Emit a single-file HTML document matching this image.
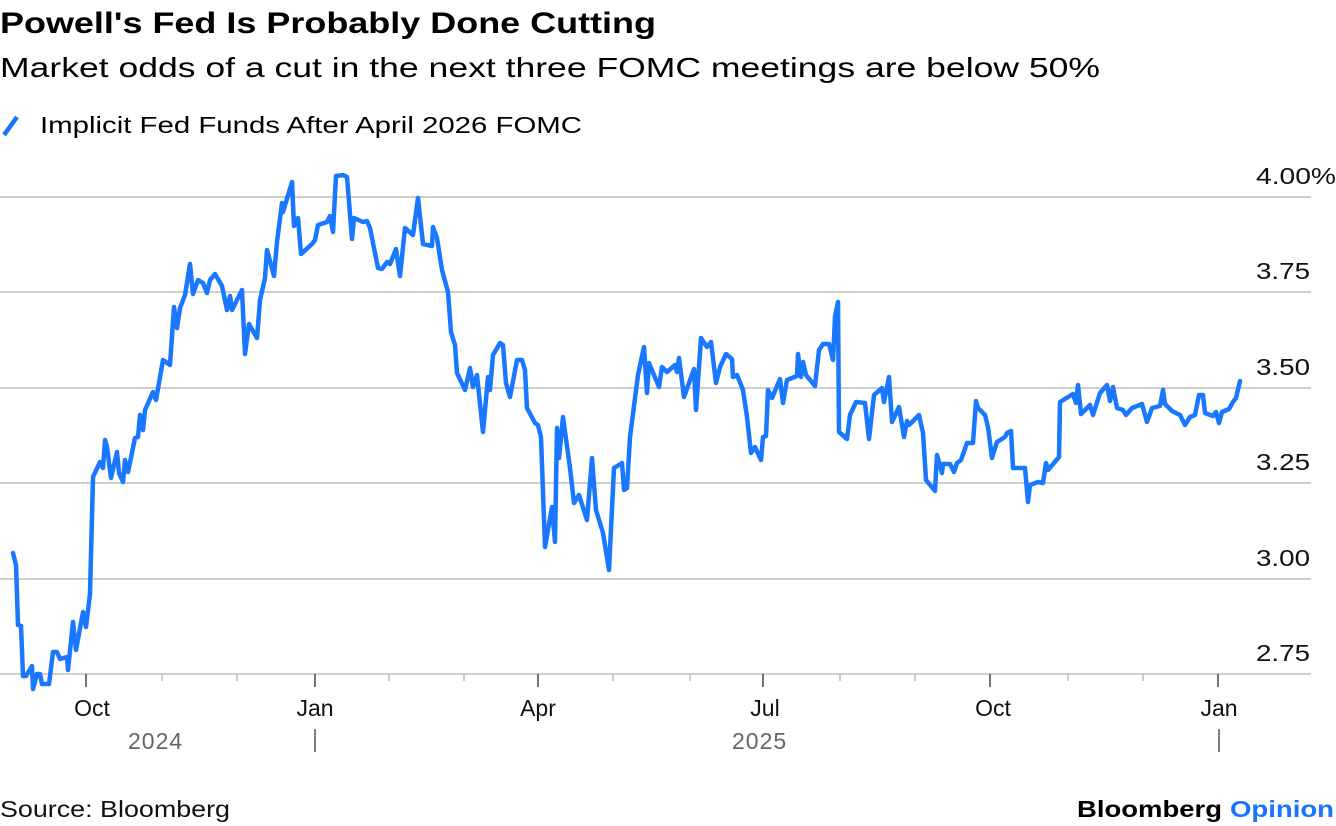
<!DOCTYPE html>
<html><head><meta charset="utf-8"><style>
html,body{margin:0;padding:0;background:#fff;}
svg{display:block;font-family:"Liberation Sans",sans-serif;}
</style></head><body>
<svg width="1336" height="826" viewBox="0 0 1336 826" xmlns="http://www.w3.org/2000/svg">
<text x="0" y="33" font-size="30" font-weight="bold" fill="#000" textLength="656" lengthAdjust="spacingAndGlyphs">Powell's Fed Is Probably Done Cutting</text>
<text x="0" y="77" font-size="28" fill="#000" textLength="1100" lengthAdjust="spacingAndGlyphs">Market odds of a cut in the next three FOMC meetings are below 50%</text>
<line x1="4" y1="135" x2="17" y2="117" stroke="#1a74ff" stroke-width="4.5"/>
<text x="40" y="133" font-size="23" fill="#000" textLength="542" lengthAdjust="spacingAndGlyphs">Implicit Fed Funds After April 2026 FOMC</text>
<g stroke="#cfcfcf" stroke-width="2">
<line x1="0" y1="197" x2="1311" y2="197"/>
<line x1="0" y1="292" x2="1311" y2="292"/>
<line x1="0" y1="388" x2="1311" y2="388"/>
<line x1="0" y1="483" x2="1311" y2="483"/>
<line x1="0" y1="579" x2="1311" y2="579"/>
<line x1="0" y1="674" x2="1311" y2="674"/>
</g>
<g font-size="23" fill="#111">
<text x="1256" y="184" textLength="80" lengthAdjust="spacingAndGlyphs">4.00%</text>
<text x="1256" y="279" textLength="54" lengthAdjust="spacingAndGlyphs">3.75</text>
<text x="1256" y="375" textLength="54" lengthAdjust="spacingAndGlyphs">3.50</text>
<text x="1256" y="470" textLength="54" lengthAdjust="spacingAndGlyphs">3.25</text>
<text x="1256" y="566" textLength="54" lengthAdjust="spacingAndGlyphs">3.00</text>
<text x="1256" y="661" textLength="54" lengthAdjust="spacingAndGlyphs">2.75</text>
</g>
<g stroke="#444" stroke-width="1.5">
<line x1="86" y1="674" x2="86" y2="687"/><line x1="315" y1="674" x2="315" y2="687"/>
<line x1="538" y1="674" x2="538" y2="687"/><line x1="763" y1="674" x2="763" y2="687"/>
<line x1="990" y1="674" x2="990" y2="687"/><line x1="1218" y1="674" x2="1218" y2="687"/>
</g>
<g stroke="#bbb" stroke-width="1.5">
<line x1="162" y1="674" x2="162" y2="681"/><line x1="237" y1="674" x2="237" y2="681"/>
<line x1="389" y1="674" x2="389" y2="681"/><line x1="464" y1="674" x2="464" y2="681"/>
<line x1="613" y1="674" x2="613" y2="681"/><line x1="690" y1="674" x2="690" y2="681"/>
<line x1="840" y1="674" x2="840" y2="681"/><line x1="915" y1="674" x2="915" y2="681"/>
<line x1="1068" y1="674" x2="1068" y2="681"/><line x1="1143" y1="674" x2="1143" y2="681"/>
</g>
<g font-size="23" fill="#111" text-anchor="middle">
<text x="92" y="716">Oct</text><text x="315" y="716">Jan</text><text x="538" y="716">Apr</text>
<text x="765" y="716">Jul</text><text x="993" y="716">Oct</text><text x="1219" y="716">Jan</text>
</g>
<g font-size="23" fill="#666">
<text x="128" y="749" letter-spacing="1">2024</text>
<text x="732" y="749" letter-spacing="1">2025</text>
</g>
<g stroke="#555" stroke-width="1.5">
<line x1="315" y1="729" x2="315" y2="752"/><line x1="1219" y1="729" x2="1219" y2="752"/>
</g>
<polyline fill="none" stroke="#1a77ff" stroke-width="4.5" stroke-linejoin="round" stroke-linecap="round" points="13,553 16,565 18,625 21,626 23,676 26,676 32,666 33,689 37,674 40,674 42,684 49,684 53,652 57,652 60,659 67,657 68,670 73,622 76,650 83,612 86,627 90,594 93,477 100,462 103,468 105,440 107,447 111,478 117,452 119,473 123,482 125,460 128,472 135,438 138,437 140,415 143,430 145,410 153,392 156,400 163,360 170,365 174,307 177,328 180,308 185,295 190,264 193,294 198,280 203,283 207,293 210,280 215,274 222,286 227,310 230,296 232,310 242,290 245,354 249,324 257,338 260,300 265,278 267,250 274,276 277,242 282,203 283,212 292,182 294,226 298,218 301,254 312,244 315,240 318,225 327,222 330,216 333,232 336,176 343,175 347,177 352,239 354,218 363,222 367,221 370,228 378,268 382,269 387,262 390,264 396,249 400,276 405,228 413,235 418,198 423,244 432,246 433,227 437,238 442,270 448,292 451,332 455,345 457,373 465,390 470,368 473,387 477,375 483,432 488,377 490,390 493,355 500,343 503,345 506,383 510,397 517,360 522,360 525,370 527,408 535,423 538,425 541,437 545,547 552,507 555,542 557,428 559,458 563,417 570,468 574,503 579,495 587,520 592,458 596,510 603,533 609,570 614,468 622,463 624,490 627,488 630,437 638,375 644,347 647,393 649,363 659,387 662,367 667,372 675,365 677,372 679,358 684,397 694,369 696,410 701,338 707,347 711,342 716,383 720,367 726,354 732,359 733,377 737,375 743,390 747,417 751,453 755,447 761,460 763,437 766,436 768,390 772,398 780,379 783,403 787,380 797,376 798,354 801,377 803,362 806,375 815,386 819,350 823,344 829,344 833,360 835,317 838,302 839,432 847,439 850,415 856,402 865,403 869,439 874,395 882,388 884,402 889,377 892,422 899,407 904,437 907,421 909,425 919,415 923,433 926,480 935,491 937,455 942,473 943,464 950,464 954,472 957,463 961,460 967,443 973,443 976,401 978,408 985,415 988,427 992,458 997,442 1005,437 1007,433 1011,431 1013,468 1025,468 1028,502 1030,485 1038,482 1043,483 1046,463 1048,470 1059,457 1060,402 1073,394 1076,403 1078,385 1081,414 1090,405 1093,415 1100,393 1107,385 1110,401 1113,387 1117,408 1123,410 1126,415 1132,408 1142,404 1147,422 1152,408 1160,406 1163,390 1165,404 1172,411 1180,415 1185,425 1190,417 1195,415 1199,395 1203,395 1205,413 1213,416 1216,412 1219,423 1222,412 1229,409 1233,402 1236,398 1240,381"/>
<text x="0" y="817" font-size="23" fill="#111" textLength="230" lengthAdjust="spacingAndGlyphs">Source: Bloomberg</text>
<text x="1077" y="817" font-size="23" font-weight="bold" fill="#000" textLength="145" lengthAdjust="spacingAndGlyphs">Bloomberg</text>
<text x="1230" y="817" font-size="23" font-weight="bold" fill="#1a74ff" textLength="104" lengthAdjust="spacingAndGlyphs">Opinion</text>
</svg>
</body></html>
